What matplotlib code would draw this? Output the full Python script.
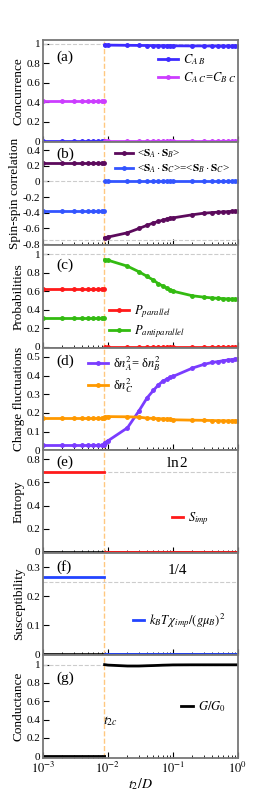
import numpy as np
import matplotlib
matplotlib.use("Agg")
import matplotlib.pyplot as plt

plt.rcParams["font.family"] = ["Liberation Serif", "DejaVu Serif"]
plt.rcParams["mathtext.fontset"] = "stix"

# sample points of t2/D, left and right of the transition t2c
t2c = 0.0088
t_left = [0.001, 0.002, 0.003, 0.004, 0.005, 0.006, 0.007, 0.008, 0.0087]
t_right = [0.0089, 0.01, 0.02, 0.03, 0.04, 0.05, 0.06, 0.07, 0.08, 0.09,
           0.1, 0.2, 0.3, 0.4, 0.5, 0.6, 0.7, 0.8, 0.9, 1.0]

# (a) concurrence
cab_left = [0.0] * 9
cab_right = [0.985, 0.984, 0.982, 0.981, 0.980, 0.979, 0.979, 0.978, 0.978, 0.978,
             0.977, 0.976, 0.976, 0.975, 0.975, 0.975, 0.975, 0.975, 0.975, 0.975]
cac_left = [0.415] * 9
cac_right = [0.0] * 20

# (b) spin-spin correlations
sab_left = [0.234] * 9
sab_right = [-0.72, -0.71, -0.655, -0.60, -0.56, -0.53, -0.51, -0.495, -0.48, -0.47,
             -0.465, -0.425, -0.405, -0.397, -0.392, -0.388, -0.385, -0.383, -0.381, -0.38]
sac_left = [-0.38] * 9
sac_right = [0.0] * 20

# (c) probabilities
ppar_left = [0.62] * 9
ppar_right = [0.0] * 20
panti_left = [0.31] * 9
panti_right = [0.94, 0.935, 0.87, 0.81, 0.76, 0.72, 0.68, 0.655, 0.635, 0.615,
               0.60, 0.55, 0.535, 0.527, 0.522, 0.519, 0.516, 0.514, 0.512, 0.51]

# (d) charge fluctuations
dna_left = [0.03] * 9
dna_right = [0.04, 0.05, 0.12, 0.21, 0.28, 0.32, 0.35, 0.37, 0.38, 0.39,
             0.395, 0.44, 0.46, 0.47, 0.475, 0.48, 0.483, 0.486, 0.488, 0.49]
dnc_left = [0.17] * 9
dnc_right = [0.178, 0.18, 0.179, 0.177, 0.172, 0.170, 0.169, 0.168, 0.167, 0.166,
             0.163, 0.161, 0.160, 0.159, 0.158, 0.158, 0.157, 0.157, 0.157, 0.157]

# (e) entropy, (f) susceptibility, (g) conductance
simp_left = [0.693] * 9
simp_right = [0.0] * 20
chi_left = [0.265] * 9
chi_right = [0.0] * 20
g_left = [0.0] * 9
g_right = [1.0, 0.995, 0.985, 0.985, 0.988, 0.99, 0.992, 0.994, 0.995, 0.996,
           0.997, 0.998, 0.998, 0.998, 0.998, 0.998, 0.998, 0.998, 0.998, 0.998]

grid_col = "#cccccc"
vcol = "#ffc880"

fig, axes = plt.subplots(7, 1, figsize=(2.75, 7.93), dpi=100, sharex=True)
fig.subplots_adjust(left=0.156, right=0.865, top=0.95, bottom=0.044, hspace=0)


def pair(ax, yl, yr, color, label, marker="o"):
    kw = dict(color=color, lw=2, marker=marker, ms=2.5)
    if marker is None:
        kw.pop("ms")
    ax.plot(t_left, yl, label=label, **kw)
    ax.plot(t_right, yr, **kw)


def leg(ax, x, y, hl=1.6, fs=9):
    ax.legend(loc="upper left", bbox_to_anchor=(x, y), frameon=False,
              borderpad=0, borderaxespad=0, handlelength=hl, handletextpad=0.4,
              labelspacing=0.25, fontsize=fs)


ax = axes[0]
ax.axhline(1, color=grid_col, ls="--", lw=0.8)
pair(ax, cab_left, cab_right, "#3d2bff", r"$C_{A\ B}$")
pair(ax, cac_left, cac_right, "#cc3dff", r"$C_{A\ C}$=$C_{B\ C}$")
ax.set_ylim(-0.01, 1.04)
ax.set_yticks([0, 0.2, 0.4, 0.6, 0.8, 1])
ax.set_yticklabels(["0", "0.2", "0.4", "0.6", "0.8", "1"])
ax.set_ylabel("Concurrence")
leg(ax, 0.59, 0.88)

ax = axes[1]
ax.axhline(0, color=grid_col, ls="--", lw=0.8)
ax.axhline(-0.75, color=grid_col, ls="--", lw=0.8)
pair(ax, sab_left, sab_right, "#5c0a5c", r"<$\mathbf{S}_A\cdot\mathbf{S}_B$>")
pair(ax, sac_left, sac_right, "#3355ff",
     r"<$\mathbf{S}_A\cdot\mathbf{S}_C$>=<$\mathbf{S}_B\cdot\mathbf{S}_C$>")
ax.set_ylim(-0.81, 0.5)
ax.set_yticks([-0.8, -0.6, -0.4, -0.2, 0, 0.2, 0.4])
ax.set_yticklabels(["-0.8", "-0.6", "-0.4", "-0.2", "0", "0.2", "0.4"])
ax.set_ylabel("Spin-spin correlation")
leg(ax, 0.37, 0.95, fs=8)

ax = axes[2]
ax.axhline(1, color=grid_col, ls="--", lw=0.8)
pair(ax, ppar_left, ppar_right, "#ff1a1a", r"$P_{parallel}$")
pair(ax, panti_left, panti_right, "#33bb11", r"$P_{antiparallel}$")
ax.set_ylim(-0.01, 1.1)
ax.set_yticks([0, 0.2, 0.4, 0.6, 0.8, 1])
ax.set_yticklabels(["0", "0.2", "0.4", "0.6", "0.8", "1"])
ax.set_ylabel("Probabilities")
leg(ax, 0.34, 0.43)

ax = axes[3]
pair(ax, dna_left, dna_right, "#7a3cff", "δ$n_A^2$= δ$n_B^2$")
pair(ax, dnc_left, dnc_right, "#ff9900", "δ$n_C^2$")
ax.set_ylim(0, 0.55)
ax.set_yticks([0, 0.1, 0.2, 0.3, 0.4, 0.5])
ax.set_yticklabels(["0", "0.1", "0.2", "0.3", "0.4", "0.5"])
ax.set_ylabel("Charge fluctuations")
leg(ax, 0.23, 0.93)

ax = axes[4]
ax.axhline(np.log(2), color=grid_col, ls="--", lw=0.8)
pair(ax, simp_left, simp_right, "#ff1a1a", r"$S_{imp}$", marker=None)
ax.axhline(0, color="black", lw=1.2, zorder=1)
ax.set_ylim(-0.01, 0.88)
ax.set_yticks([0, 0.2, 0.4, 0.6, 0.8])
ax.set_yticklabels(["0", "0.2", "0.4", "0.6", "0.8"])
ax.set_ylabel("Entropy")
ax.text(0.69, 0.88, r"ln$\,$2", transform=ax.transAxes, ha="center", va="center", fontsize=11)
leg(ax, 0.66, 0.41, hl=0.9)

ax = axes[5]
ax.axhline(0.25, color=grid_col, ls="--", lw=0.8)
pair(ax, chi_left, chi_right, "#2244ff", r"$k_BT\,\chi_{imp}/(g\mu_B)^2$", marker=None)
ax.axhline(0, color="black", lw=1.2, zorder=1)
ax.set_ylim(-0.004, 0.35)
ax.set_yticks([0, 0.1, 0.2, 0.3])
ax.set_yticklabels(["0", "0.1", "0.2", "0.3"])
ax.set_ylabel("Susceptibility")
ax.text(0.69, 0.83, "1/4", transform=ax.transAxes, ha="center", va="center", fontsize=11)
leg(ax, 0.46, 0.43, hl=0.9)

ax = axes[6]
ax.axhline(1, color=grid_col, ls="--", lw=0.8)
pair(ax, g_left, g_right, "black", r"$G/G_0$", marker=None)
ax.set_ylim(-0.02, 1.1)
ax.set_yticks([0, 0.2, 0.4, 0.6, 0.8, 1])
ax.set_yticklabels(["0", "0.2", "0.4", "0.6", "0.8", "1"])
ax.set_ylabel("Conductance")
ax.text(t2c * 1.25, 0.38, r"$t_{2c}$", ha="center", va="center", fontsize=10)
leg(ax, 0.71, 0.57, hl=0.9)
ax.set_xlabel(r"$t_2/D$", fontsize=10, labelpad=0)

panel = ["(a)", "(b)", "(c)", "(d)", "(e)", "(f)", "(g)"]
py = [0.83, 0.88, 0.8, 0.87, 0.88, 0.86, 0.78]
for ax, lab, y in zip(axes, panel, py):
    ax.axvline(t2c, color=vcol, ls="--", lw=1, zorder=0)
    ax.text(0.07, y, lab, transform=ax.transAxes, ha="left", va="center", fontsize=11)
    ax.set_xscale("log")
    ax.set_xlim(1e-3, 1)
    ax.tick_params(which="both", direction="in", pad=2)
    ax.tick_params(axis="y", labelsize=8)
    ax.tick_params(axis="x", labelsize=9)
    ax.tick_params(which="major", length=4)
    ax.tick_params(which="minor", length=2.5)
    ax.yaxis.label.set_size(9.5)
    ax.yaxis.labelpad = 1
    for s in ax.spines.values():
        s.set_color("#777777")
        s.set_linewidth(1.3)

axes[-1].set_xticks([1e-3, 1e-2, 1e-1, 1])
axes[-1].set_xticklabels([r"$10^{-3}$", r"$10^{-2}$", r"$10^{-1}$", r"$10^{0}$"])

fig.savefig("out.png", dpi=100)
